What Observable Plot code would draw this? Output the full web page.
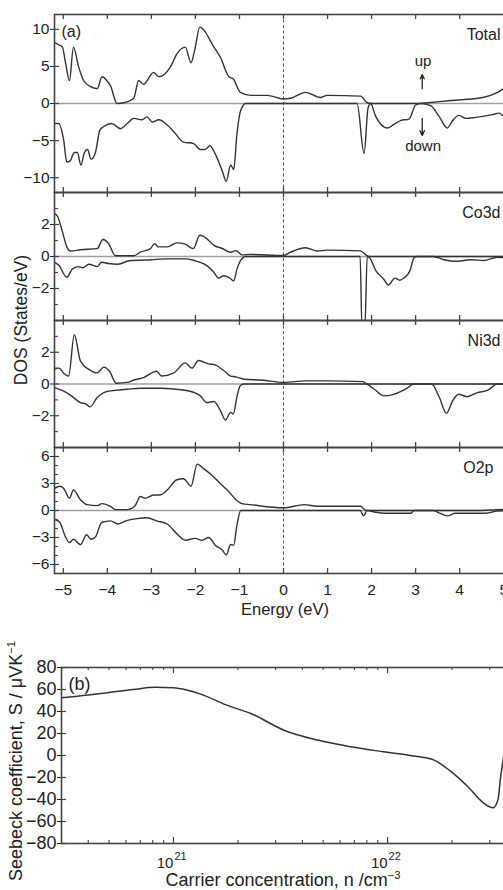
<!DOCTYPE html>
<html><head><meta charset="utf-8">
<script src="https://cdn.jsdelivr.net/npm/d3@7"></script>
<script src="https://cdn.jsdelivr.net/npm/@observablehq/plot@0.6"></script>
<style>
html,body{margin:0;padding:0;background:#fff;overflow:hidden;}
#chart{position:relative;width:503px;height:890px;overflow:hidden;font-family:"Liberation Sans",Arial,sans-serif;color:#222;}
.lbl{position:absolute;white-space:nowrap;font-family:"Liberation Sans",Arial,sans-serif;color:#222;transform:translate(-50%,-50%);}
.rot{transform:translate(-50%,-50%) rotate(-90deg);}
.lbl sup{font-size:62%;}
</style></head><body><div id="chart"></div>
<script>
// ---------- DATA ----------
const energyTicks = [-5,-4,-3,-2,-1,0,1,2,3,4,5];
const panelNames = ["Total","Co3d","Ni3d","O2p"];

const totalTicks = [-10,-5,0,5,10];
const pdTicks = [-2,0,2];
const pdMinor = [-3,-1,1,3];
const o2pTicks = [-6,-3,0,3,6];
const o2pMinor = [-5,-4,-2,-1,1,2,4,5];

const totalUp = [[-5.2,8.2],[-5.1,7.9],[-5.02,7.6],[-4.95,5.5],[-4.86,3.1],[-4.77,7.6],[-4.65,4.9],[-4.54,3.1],[-4.39,2.3],[-4.23,2.0],[-4.12,3.6],[-4.0,3.0],[-3.93,2.4],[-3.78,0],[-3.63,0.1],[-3.4,0.7],[-3.29,3.1],[-3.18,2.6],[-2.95,4.2],[-2.83,3.6],[-2.57,4.9],[-2.42,6.7],[-2.23,7.6],[-2.1,5.5],[-2.02,7.1],[-1.9,10.3],[-1.77,9.6],[-1.62,8.0],[-1.43,6.2],[-1.24,3.6],[-1.14,3.3],[-0.98,1.5],[-0.75,1.1],[-0.37,1.1],[0,0.6],[0.16,0.7],[0.5,1.5],[0.84,0.8],[0.99,1.1],[1.75,1.0],[1.9,0.1],[2.0,0],[3.1,0],[3.27,0.1],[3.8,0.4],[4.55,0.85],[4.86,1.5],[5.2,3.0]];
const totalDown = [[-5.2,-2.7],[-5.11,-2.7],[-4.99,-5.0],[-4.92,-7.9],[-4.84,-7.7],[-4.75,-6.6],[-4.68,-6.6],[-4.6,-8.3],[-4.52,-6.6],[-4.45,-6.2],[-4.37,-7.5],[-4.27,-6.6],[-4.17,-3.6],[-4.08,-3.1],[-3.9,-2.7],[-3.7,-3.4],[-3.55,-2.7],[-3.4,-2.0],[-3.21,-2.2],[-3.1,-1.8],[-2.98,-2.5],[-2.83,-2.2],[-2.64,-2.9],[-2.49,-3.8],[-2.27,-5.2],[-2.04,-5.4],[-1.89,-6.2],[-1.78,-6.2],[-1.67,-5.7],[-1.55,-6.8],[-1.39,-9.1],[-1.3,-10.5],[-1.2,-8.3],[-1.13,-8.9],[-1.06,-4.3],[-0.98,-1.1],[-0.86,0],[1.67,0],[1.83,-6.75],[1.92,-0.6],[1.98,0],[2.09,-1.7],[2.36,-3.3],[2.51,-2.8],[2.66,-2.3],[2.85,-2.1],[3.0,-0.2],[3.11,0],[3.34,-0.3],[3.53,-1.7],[3.72,-3.3],[3.83,-2.4],[3.98,-1.6],[4.14,-2.0],[4.33,-1.9],[4.55,-1.7],[4.74,-1.5],[4.9,-1.3],[5.0,-1.7],[5.2,-1.6]];

const co3dUp = [[-5.2,2.7],[-5.13,2.5],[-5.03,1.65],[-4.92,0.6],[-4.84,0.34],[-4.61,0.42],[-4.23,0.49],[-4.1,1.06],[-3.97,0.8],[-3.82,0.05],[-3.4,0.05],[-3.25,0.27],[-3.02,0.49],[-2.93,0.8],[-2.84,0.6],[-2.64,0.6],[-2.42,0.85],[-2.23,0.77],[-2.05,0.49],[-1.9,1.33],[-1.78,1.2],[-1.58,0.7],[-1.39,0.5],[-1.2,0.27],[-1.08,0.37],[-0.94,0.1],[-0.75,0.13],[0,0.06],[0.16,0.27],[0.5,0.55],[0.77,0.34],[0.99,0.4],[1.75,0.35],[1.87,0.1],[1.95,0],[5.2,0]];
const co3dDown = [[-5.2,-0.36],[-5.1,-0.55],[-4.92,-1.3],[-4.8,-0.8],[-4.66,-0.63],[-4.56,-0.7],[-4.42,-0.48],[-4.23,-0.63],[-4.13,-0.36],[-3.97,-0.44],[-3.76,-0.48],[-3.5,-0.27],[-3.0,-0.2],[-2.64,-0.15],[-2.2,-0.15],[-2.0,-0.27],[-1.74,-0.57],[-1.58,-0.99],[-1.47,-1.35],[-1.36,-1.2],[-1.24,-1.3],[-1.13,-1.52],[-1.06,-0.82],[-0.98,-0.27],[-0.86,0],[1.74,0],[1.78,-4.3],[1.85,-4.3],[1.9,0],[1.96,-0.1],[2.1,-0.9],[2.27,-1.4],[2.38,-1.78],[2.53,-1.35],[2.64,-1.48],[2.73,-1.35],[2.87,-0.9],[2.96,-0.1],[3.03,0],[3.4,0],[3.64,-0.2],[3.94,-0.3],[4.25,-0.2],[4.55,-0.25],[4.85,-0.05],[5.2,-0.1]];

const ni3dUp = [[-5.2,0.92],[-5.1,1.0],[-4.98,0.65],[-4.88,0.5],[-4.75,3.1],[-4.61,1.44],[-4.42,0.92],[-4.23,0.7],[-4.08,1.06],[-3.95,0.8],[-3.8,0.05],[-3.55,0.1],[-3.4,0.25],[-3.18,0.4],[-2.88,0.8],[-2.77,0.5],[-2.49,0.7],[-2.23,1.33],[-2.08,1.0],[-1.93,1.48],[-1.7,1.27],[-1.55,1.2],[-1.36,0.85],[-1.2,0.5],[-1.08,0.45],[-0.9,0.3],[-0.5,0.25],[0,0.1],[0.5,0.2],[1.0,0.2],[1.8,0.15],[1.9,0],[5.2,0]];
const ni3dDown = [[-5.2,-0.23],[-5.0,-0.44],[-4.84,-0.7],[-4.61,-1.17],[-4.48,-1.27],[-4.39,-1.44],[-4.23,-0.85],[-4.08,-0.54],[-3.83,-0.4],[-3.55,-0.33],[-3.25,-0.27],[-2.8,-0.27],[-2.45,-0.33],[-2.14,-0.44],[-1.89,-0.75],[-1.74,-1.17],[-1.58,-1.1],[-1.43,-1.69],[-1.32,-2.27],[-1.2,-1.79],[-1.14,-1.9],[-1.06,-0.85],[-0.98,-0.1],[-0.9,0],[1.87,0],[2.06,-0.33],[2.28,-0.75],[2.5,-0.65],[2.8,-0.27],[2.96,0],[3.36,0],[3.54,-0.85],[3.7,-1.85],[3.84,-1.06],[3.98,-0.65],[4.17,-0.8],[4.4,-0.54],[4.63,-0.4],[4.86,0],[5.2,0]];

const o2pUp = [[-5.2,2.45],[-5.08,2.7],[-4.99,2.45],[-4.86,1.37],[-4.77,2.27],[-4.61,1.2],[-4.46,0.65],[-4.23,0.54],[-4.12,0.76],[-3.93,0.47],[-3.82,0.1],[-3.55,0.1],[-3.37,0.54],[-3.25,1.55],[-3.14,1.37],[-2.95,1.73],[-2.8,1.73],[-2.64,2.27],[-2.42,3.42],[-2.27,3.53],[-2.1,2.7],[-1.96,5.15],[-1.8,4.6],[-1.62,3.9],[-1.43,2.98],[-1.24,2.09],[-1.08,1.2],[-0.94,0.76],[-0.75,0.65],[0,0.3],[0.47,0.65],[0.77,0.47],[1.75,0.47],[1.87,0],[4.5,0],[4.85,0.1],[5.2,0.15]];
const o2pDown = [[-5.2,-0.97],[-5.08,-1.3],[-4.95,-2.95],[-4.86,-3.57],[-4.77,-3.2],[-4.61,-3.78],[-4.47,-2.7],[-4.37,-3.2],[-4.27,-2.95],[-4.13,-1.33],[-3.93,-1.15],[-3.76,-1.5],[-3.58,-1.15],[-3.33,-0.9],[-3.1,-0.8],[-2.88,-1.15],[-2.64,-1.5],[-2.42,-2.6],[-2.23,-3.3],[-2.0,-3.1],[-1.85,-3.3],[-1.7,-3.0],[-1.55,-3.85],[-1.39,-4.4],[-1.3,-4.94],[-1.2,-3.78],[-1.13,-3.85],[-1.06,-1.7],[-0.97,0],[1.74,0],[1.82,-0.6],[1.9,0],[2.1,-0.2],[2.3,-0.3],[2.9,-0.3],[2.96,0],[3.4,0],[3.55,-0.3],[3.72,-0.6],[3.9,-0.3],[4.6,-0.3],[4.85,-0.05],[5.2,0]];

const seebeckN = [3e20,4e20,5.1e20,6.5e20,8.2e20,1e21,1.15e21,1.35e21,1.76e21,2.31e21,3.28e21,4.72e21,6.73e21,9.55e21,1.38e22,1.64e22,1.96e22,2.36e22,2.8e22,3.11e22,3.28e22,3.36e22,3.5e22,3.65e22];
const seebeckS = [52.5,55,57.5,60,62,61.5,59.5,55.6,46,38,23,14,8,3.4,-1,-4,-14,-28,-43,-47.5,-40,-22,2,25];
const seebeckTicks = [-80,-60,-40,-20,0,20,40,60,80];
const seebeckMajor = [1e21,1e22];
const seebeckMajorExp = ["21","22"];
const seebeckMinor = [4e20,5e20,6e20,7e20,8e20,9e20,2e21,3e21,4e21,5e21,6e21,7e21,8e21,9e21,2e22,3e22];

// ---------- DRAW ----------
const chart = document.getElementById("chart");
const FONT = '"Liberation Sans", Arial, sans-serif';
const minus = d => d < 0 ? "\u2212" + Math.abs(d) : String(d);
const LINE = "#333", FRAME = "#444";

function svgStyle(top, fs) {
  return `position:absolute;left:0;top:${top}px;background:transparent;overflow:visible;max-width:none;font-family:${FONT};font-size:${fs}px;color:#222;`;
}

function dosPanel({up, down, domain, labelTicks, minorTicks, name, nameDx, frameTop, h, bottomAxis, extra = []}) {
  const W = 530, ml = 54, mr = 18, mt = 6, mb = bottomAxis ? 40 : 6;
  const pw = W - ml - mr;
  const p = Plot.plot({
    width: W, height: h + mt + mb,
    marginLeft: ml, marginRight: mr, marginTop: mt, marginBottom: mb,
    style: svgStyle(frameTop - mt, 15.5),
    x: {domain: [-5.2, 5.2], axis: bottomAxis ? "bottom" : null, ticks: energyTicks, tickSize: 0, tickPadding: 10, tickFormat: minus, label: null},
    y: {domain, ticks: labelTicks, tickSize: 4, tickPadding: 1, tickFormat: minus, label: null},
    marks: [
      Plot.ruleY([0], {stroke: "#a0a0a0", strokeWidth: 1.3}),
      Plot.ruleX([0], {stroke: "#555", strokeDasharray: "3,2.5", strokeWidth: 1}),
      Plot.line(up, {x: d => d[0], y: d => d[1], curve: "monotone-x", stroke: LINE, strokeWidth: 1.4, clip: true}),
      Plot.line(down, {x: d => d[0], y: d => d[1], curve: "monotone-x", stroke: LINE, strokeWidth: 1.4, clip: true}),
      Plot.tickX(energyTicks, {x: d => d, insetBottom: h - 5, stroke: FRAME, strokeWidth: 1.3}),
      Plot.tickX(energyTicks, {x: d => d, insetTop: h - 5, stroke: FRAME, strokeWidth: 1.3}),
      Plot.tickY(labelTicks, {y: d => d, insetRight: pw - 5, stroke: FRAME, strokeWidth: 1.2}),
      Plot.tickY(minorTicks, {y: d => d, insetRight: pw - 4, stroke: FRAME, strokeWidth: 1.1}),
      Plot.text([name], {frameAnchor: "top-right", dx: nameDx, dy: 20, textAnchor: "end", lineAnchor: "middle", fontSize: 16, fill: "#222"}),
      ...extra,
      Plot.frame({stroke: FRAME, strokeWidth: 1.6})
    ]
  });
  chart.appendChild(p);
}

const upDownText = [{t: "up", v: 5.64}, {t: "down", v: -5.77}];
const upDownArrows = [{y1: 2.0, y2: 3.9}, {y1: -2.0, y2: -4.3}];
const arrowE = 3.15;

dosPanel({up: totalUp, down: totalDown, domain: [-12, 12], labelTicks: totalTicks, minorTicks: [],
  name: panelNames[0], nameDx: -12, frameTop: 14, h: 178, bottomAxis: false,
  extra: [
    Plot.text(["(a)"], {frameAnchor: "top-left", dx: 7, dy: 17, textAnchor: "start", lineAnchor: "middle", fontSize: 16, fill: "#222"}),
    Plot.text(upDownText, {x: () => arrowE + 0.02, y: "v", text: "t", fontSize: 15, fill: "#222"}),
    Plot.arrow(upDownArrows, {x1: () => arrowE, x2: () => arrowE, y1: "y1", y2: "y2", headLength: 6, headAngle: 50, stroke: "#222", strokeWidth: 1.3})
  ]});
dosPanel({up: co3dUp, down: co3dDown, domain: [-4, 4], labelTicks: pdTicks, minorTicks: pdMinor,
  name: panelNames[1], nameDx: -12, frameTop: 192, h: 128, bottomAxis: false});
dosPanel({up: ni3dUp, down: ni3dDown, domain: [-4, 4], labelTicks: pdTicks, minorTicks: pdMinor,
  name: panelNames[2], nameDx: -12, frameTop: 320, h: 127, bottomAxis: false});
dosPanel({up: o2pUp, down: o2pDown, domain: [-7, 7], labelTicks: o2pTicks, minorTicks: o2pMinor,
  name: panelNames[3], nameDx: -19, frameTop: 447, h: 126, bottomAxis: true});

// Seebeck panel
(function () {
  const W = 530, ml = 61, mr = 14, mt = 6, mb = 30, h = 176;
  const pw = W - ml - mr;
  const p = Plot.plot({
    width: W, height: h + mt + mb,
    marginLeft: ml, marginRight: mr, marginTop: mt, marginBottom: mb,
    style: svgStyle(667 - mt, 18),
    x: {type: "log", domain: [3e20, 4e22], axis: null},
    y: {domain: [-80, 80], ticks: seebeckTicks, tickSize: 4, tickPadding: 1, tickFormat: minus, label: null},
    marks: [
      Plot.line(seebeckN, {x: seebeckN, y: seebeckS, curve: "monotone-x", stroke: LINE, strokeWidth: 1.5, clip: true}),
      Plot.tickX(seebeckMajor, {x: d => d, insetBottom: h - 6, stroke: FRAME, strokeWidth: 1.2}),
      Plot.tickX(seebeckMajor, {x: d => d, insetTop: h - 6, stroke: FRAME, strokeWidth: 1.2}),
      Plot.tickX(seebeckMinor, {x: d => d, insetBottom: h - 3, stroke: FRAME, strokeWidth: 1.1}),
      Plot.tickX(seebeckMinor, {x: d => d, insetTop: h - 3, stroke: FRAME, strokeWidth: 1.1}),
      Plot.tickY(seebeckTicks, {y: d => d, insetRight: pw - 5, stroke: FRAME, strokeWidth: 1.2}),
      Plot.text(["(b)"], {frameAnchor: "top-left", dx: 7, dy: 17, textAnchor: "start", lineAnchor: "middle", fontSize: 18, fill: "#222"}),
      Plot.text(seebeckMajor, {x: d => d, frameAnchor: "bottom", text: () => "10", dy: 20, textAnchor: "end", lineAnchor: "middle", fontSize: 15, fill: "#222"}),
      Plot.text(seebeckMajor, {x: d => d, frameAnchor: "bottom", text: (d, i) => seebeckMajorExp[i], dx: 1, dy: 13, textAnchor: "start", lineAnchor: "middle", fontSize: 11, fill: "#222"}),
      Plot.frame({stroke: FRAME, strokeWidth: 1.6})
    ]
  });
  chart.appendChild(p);
})();

function addLabel(html, cx, cy, fs, rotate) {
  const d = document.createElement("div");
  d.className = "lbl" + (rotate ? " rot" : "");
  d.style.left = cx + "px"; d.style.top = cy + "px"; d.style.fontSize = fs + "px";
  d.innerHTML = html;
  chart.appendChild(d);
}
addLabel("Energy (eV)", 285, 609, 16.5, false);
addLabel("DOS (States/eV)", 21, 320, 17.5, true);
addLabel("Seebeck coefficient, S / \u03bcVK<sup>\u22121</sup>", 16, 761, 18, true);
addLabel("Carrier concentration, n /cm<sup>\u22123</sup>", 283, 880, 18, false);
</script></body></html>
